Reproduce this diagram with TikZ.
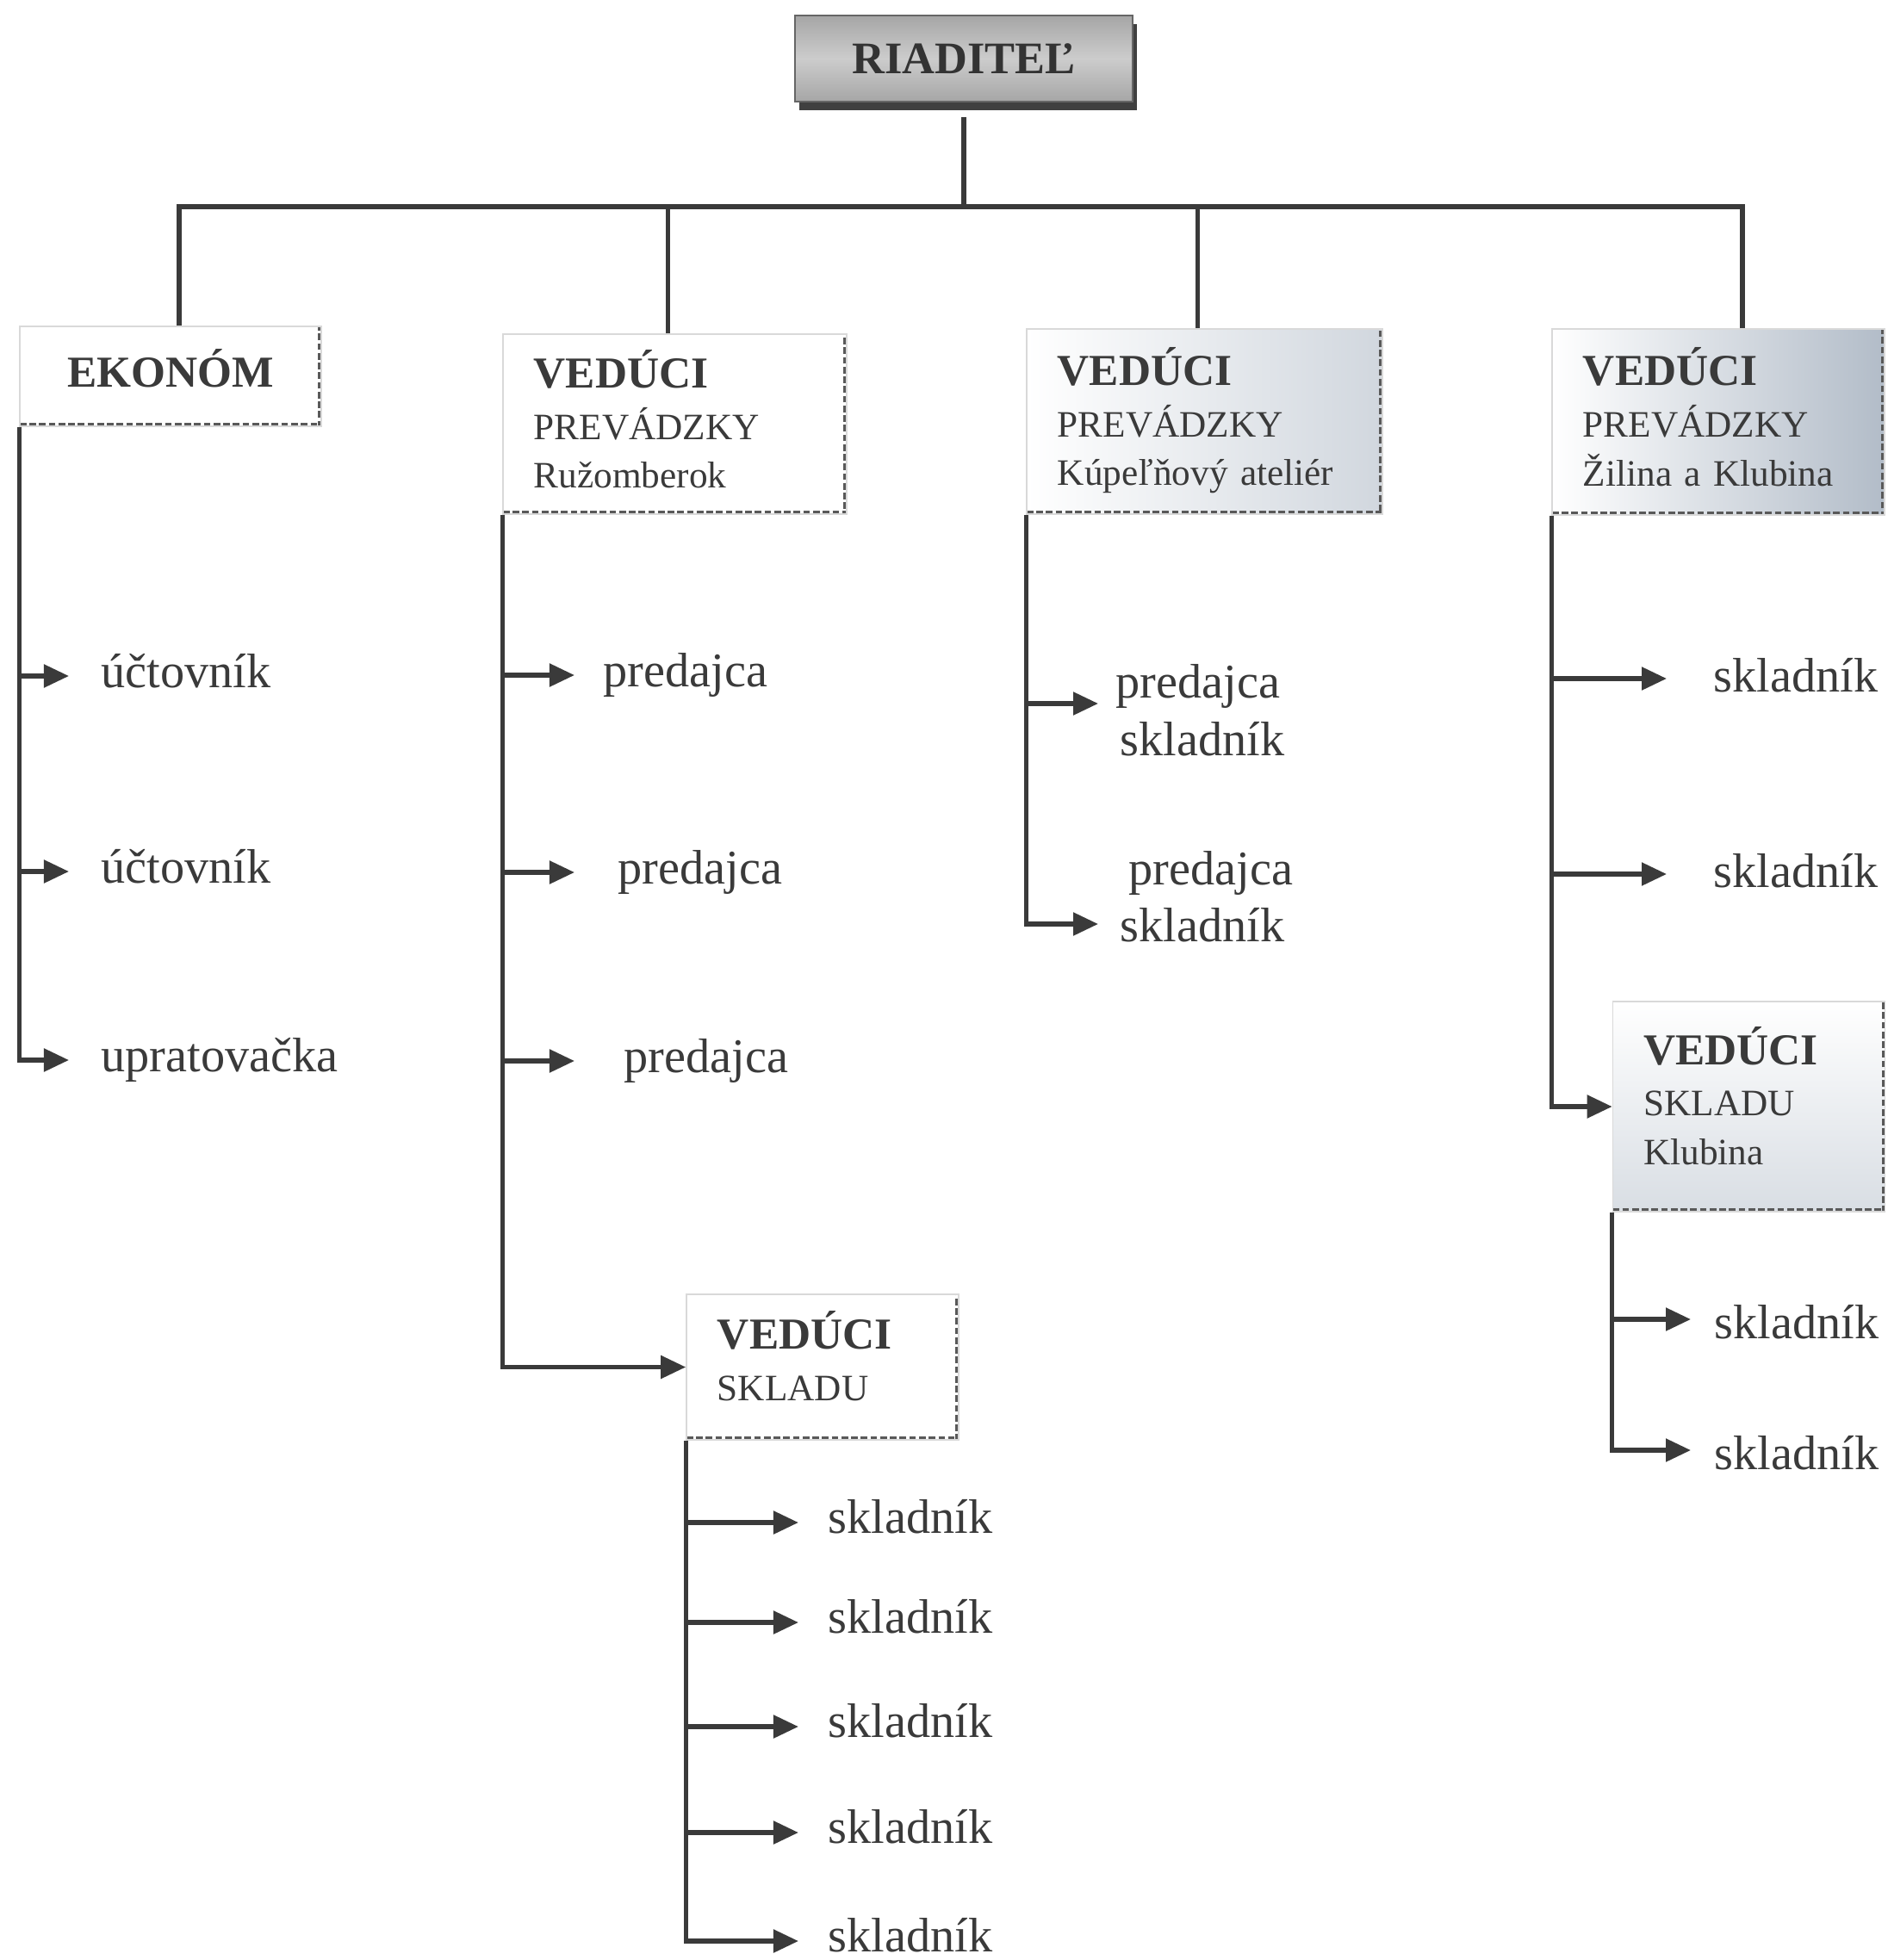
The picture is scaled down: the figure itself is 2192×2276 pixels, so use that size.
\documentclass[tikz,border=0pt]{standalone}
\usepackage{fontspec}
\setmainfont{Liberation Serif}
\usetikzlibrary{calc}
\usetikzlibrary{arrows.meta}
\usetikzlibrary{shadows}
\definecolor{ink}{RGB}{58,58,58}
\definecolor{mist}{RGB}{178,188,200}
\newcommand{\hlav}[1]{{\fontsize{14.6pt}{17pt}\selectfont\bfseries #1}}
\newcommand{\lift}[1]{\rule[-#1]{0pt}{0pt}}

\begin{document}
\begin{tikzpicture}[x=0.01cm,y=-0.01cm,
  conn/.style={ink, line width=1.5pt},
  >={Triangle[length=0.29cm,width=0.26cm]},
  unit/.style={draw=gray!30, thin, fill=white, inner xsep=0.36cm, inner ysep=0pt, align=left, text=ink,
    font=\fontsize{12.3pt}{16pt}\selectfont,
    path picture={\draw[black!65, line width=2.2pt, densely dotted] (path picture bounding box.south west) -- (path picture bounding box.south east) -- (path picture bounding box.north east);}},
  item/.style={anchor=base west, inner sep=0pt, text=ink, font=\fontsize{16pt}{19pt}\selectfont}]
\useasboundingbox (0,0) rectangle (2192,2276);

\node[draw=black!60, top color=gray!70, bottom color=gray!70, middle color=gray!40, minimum width=3.92cm, minimum height=1cm,
  text=black!80, font=\fontsize{14.9pt}{17pt}\selectfont\bfseries,
  drop shadow={shadow xshift=0.05cm, shadow yshift=-0.1cm, fill=black!75, opacity=1}] (riad) at (1119,68) {RIADITEĽ};
\coordinate (bus) at (1119,240);

\node[unit, minimum width=3.5cm, minimum height=1.16cm, align=center, inner xsep=0pt] (ekon) at (198,437) {\hlav{EKONÓM}\lift{0.2cm}};
\node[unit, text width=3.27cm, minimum height=2.09cm] (vp1) at (783.5,492.5) {\hlav{VEDÚCI}\\[1pt] PREVÁDZKY\\ Ružomberok\lift{0.12cm}};
\node[unit, text width=3.41cm, minimum height=2.15cm, left color=white, right color=mist!60] (vp2) at (1398.5,489.5) {\hlav{VEDÚCI}\\[1pt] PREVÁDZKY\\ Kúpeľňový ateliér\lift{0.12cm}};
\node[unit, text width=3.14cm, minimum height=2.16cm, left color=white, right color=mist] (vp3) at (1995,490) {\hlav{VEDÚCI}\\[1pt] PREVÁDZKY\\ Žilina a Klubina\lift{0.12cm}};
\node[unit, text width=2.44cm, minimum height=1.69cm] (vs1) at (955,1587.5) {\hlav{VEDÚCI}\\[1pt] SKLADU\lift{0.26cm}};
\node[unit, text width=2.44cm, minimum height=2.44cm, top color=white, bottom color=mist!50] (vs2) at (2030.5,1285) {\hlav{VEDÚCI}\\[1pt] SKLADU\\ Klubina\lift{0.26cm}};

\draw[conn, shorten <=0.17cm] (riad.south) -- (bus);
\draw[conn] (bus) -| ($(ekon.north)+(10,0)$);
\draw[conn] (bus) -| ($(vp1.north)+(-8,0)$);
\draw[conn] (bus) -| ($(vp2.north)+(-8,0)$);
\draw[conn] (bus) -| ($(vp3.north)+(28,0)$);

% ekonom
\foreach \y/\who [count=\i] in {785/účtovník, 1012/účtovník, 1231/upratovačka} {
  \coordinate (ek\i) at (80,\y);
  \node[item] (ekt\i) at (117,\y+13) {\who};
  \draw[conn,->] (ekon.south west) |- (ek\i);
}

% Ruzomberok
\foreach \y/\x [count=\i] in {784/700, 1013/717, 1232/724} {
  \coordinate (ru\i) at (667,\y);
  \node[item] (rut\i) at (\x,\y+13) {predajca};
  \draw[conn,->] (vp1.south west) |- (ru\i);
}
\draw[conn,->] (vp1.south west) |- (vs1.west);
\foreach \y [count=\i] in {1768,1884,2005,2128,2254} {
  \coordinate (sk\i) at (927,\y);
  \node[item] (skt\i) at (961,\y+12) {skladník};
  \draw[conn,->] (vs1.south west) |- (sk\i);
}

% Kupelnovy atelier
\coordinate (ku1) at (1275,817);
\coordinate (ku2) at (1275,1073);
\node[item] (kut1) at (1295,810) {predajca};
\node[item] (kut2) at (1300,877) {skladník};
\node[item] (kut3) at (1310,1027) {predajca};
\node[item] (kut4) at (1300,1093) {skladník};
\draw[conn,->] (vp2.south west) |- (ku1);
\draw[conn,->] (vp2.south west) |- (ku2);

% Zilina a Klubina
\foreach \y [count=\i] in {788,1015} {
  \coordinate (zi\i) at (1935,\y);
  \node[item] (zit\i) at (1989,\y+15) {skladník};
  \draw[conn,->] (vp3.south west) |- (zi\i);
}
\draw[conn,->] (vp3.south west) |- (vs2.west);
\foreach \y [count=\i] in {1532,1684} {
  \coordinate (kl\i) at (1963,\y);
  \node[item] (klt\i) at (1990,\y+22) {skladník};
  \draw[conn,->] (vs2.south west) |- (kl\i);
}
\end{tikzpicture}
\end{document}
